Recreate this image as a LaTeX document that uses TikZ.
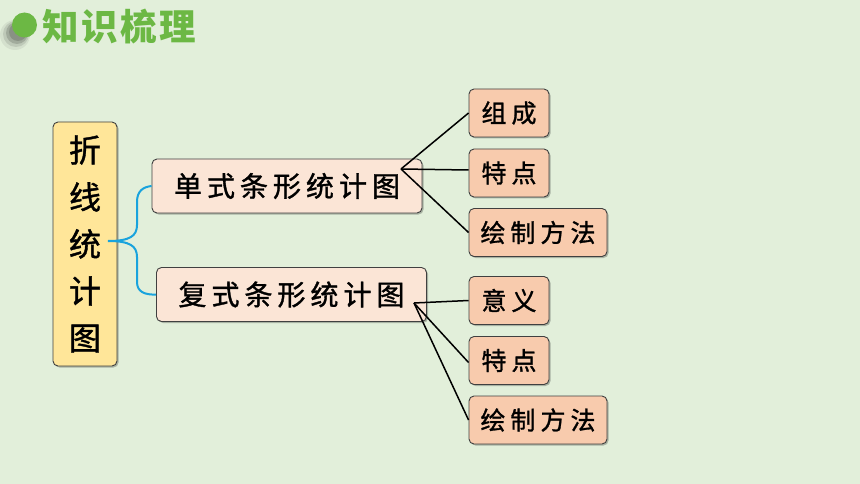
\documentclass[tikz,border=0pt]{standalone}
\usepackage{fontspec}
\newfontfamily\cjk{Noto Sans CJK SC}
\newfontfamily\cjkheavy[FakeBold=1.2]{Noto Sans CJK SC}
\usetikzlibrary{shadows}
\definecolor{bg}{HTML}{E2EFDA}
\definecolor{titlegreen}{HTML}{6CB844}
\definecolor{leftfill}{HTML}{FFE699}
\definecolor{midfill}{HTML}{FBE5D6}
\definecolor{rightfill}{HTML}{F8CBAD}
\definecolor{boxline}{HTML}{404040}
\definecolor{bracecol}{HTML}{19A3DD}
\newcommand\ks{\kern5pt}
\newcommand\kr{\kern5pt}
\newcommand\kt{\kern2.5pt}
\tikzset{
  basebox/.style={draw=boxline, line width=0.9pt, rounded corners=5pt, inner sep=0pt,
    drop shadow={shadow xshift=1.5pt, shadow yshift=-1.5pt, opacity=0.25, fill=black}},
  leftbox/.style={basebox, fill=leftfill, minimum width=64pt, minimum height=244pt,
    font=\cjkheavy\fontsize{32}{47}\selectfont, align=center},
  midbox/.style={basebox, fill=midfill, minimum width=270pt, minimum height=54pt,
    font=\cjkheavy\fontsize{28}{28}\selectfont},
  smallbox/.style={basebox, fill=rightfill, minimum width=80pt, minimum height=48pt,
    font=\cjkheavy\fontsize{25}{25}\selectfont},
  widebox/.style={smallbox, minimum width=138pt},
  link/.style={draw=black, line width=1.5pt},
  bracelink/.style={draw=bracecol, line width=2pt}
}
\begin{document}
\begin{tikzpicture}[x=1pt,y=-1pt]
\fill[bg] (0,0) rectangle (860,484);
\useasboundingbox (0,0) rectangle (860,484);
% title
\fill[black,opacity=0.06] (15,35) circle (15);
\fill[black,opacity=0.10] (16,34) circle (13);
\fill[black,opacity=0.15] (17,33) circle (11);
\fill[black,opacity=0.15] (18,32) circle (9);
\fill[titlegreen] (24.5,25) circle (12.5);
\node[anchor=west, inner sep=0pt, text=titlegreen, font=\cjk\bfseries\fontsize{36.5}{36.5}\selectfont] (title) at (42,27) {知\kt 识\kt 梳\kt 理};
% left box
\node[leftbox] (root) at (85,244) {折\\线\\统\\计\\图};
% middle boxes
\node[midbox] (m1) at (287,186) {单\ks 式\ks 条\ks 形\ks 统\ks 计\ks 图};
\node[midbox] (m2) at (291.5,294.5) {复\ks 式\ks 条\ks 形\ks 统\ks 计\ks 图};
% right boxes
\node[smallbox] (a1) at (509,113) {组\kr 成};
\node[smallbox] (a2) at (509,173) {特\kr 点};
\node[widebox] (a3) at (538,232.5) {绘\kr 制\kr 方\kr 法};
\node[smallbox] (b1) at (509,300.5) {意\kr 义};
\node[smallbox] (b2) at (509,360.5) {特\kr 点};
\node[widebox] (b3) at (538,420) {绘\kr 制\kr 方\kr 法};
% brace
\coordinate (bs) at (108,241);
\draw[bracelink] (bs) .. controls (130,241) and (137,236) .. (137,225) -- (137,202)
  .. controls (137,191) and (143,187) .. (m1.west);
\draw[bracelink] (bs) .. controls (130,241) and (137,246) .. (137,257) -- (137,282)
  .. controls (137,292) and (145,295) .. (m2.west);
% connectors
\coordinate (p1) at (401,169);
\coordinate (p2) at (414,303);
\draw[link] (p1) -- (a1.west);
\draw[link] (p1) -- ([yshift=3pt]a2.west);
\draw[link] (p1) -- (a3.west);
\draw[link] (p2) -- (b1.west);
\draw[link] (p2) -- ([yshift=-2pt]b2.west);
\draw[link] (p2) -- (b3.west);
\end{tikzpicture}
\end{document}
